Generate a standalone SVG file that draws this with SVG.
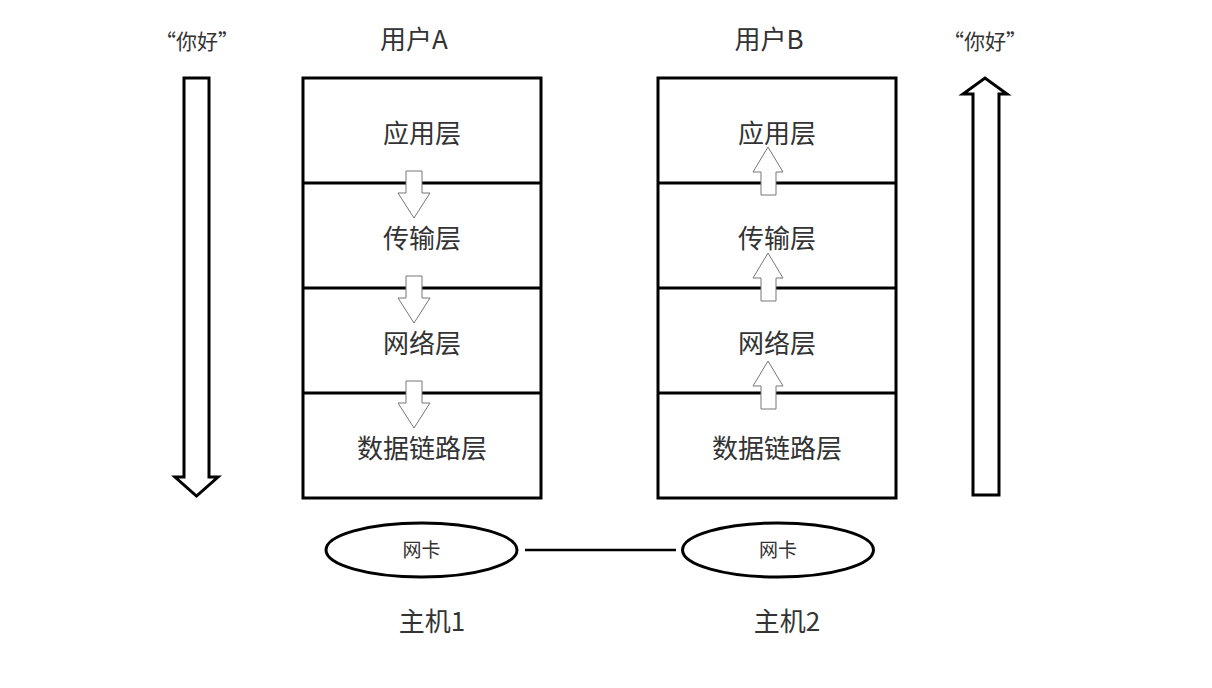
<svg xmlns="http://www.w3.org/2000/svg" width="1212" height="688" viewBox="0 0 1212 688">
<style>
text{font-family:"Noto Sans CJK SC","Noto Sans",sans-serif;fill:#333;text-anchor:middle}
.t{font-size:26px}
.s{font-size:19px}
.h{font-size:21px}
.box{fill:#fff;stroke:#000;stroke-width:3}
.div{stroke:#000;stroke-width:3}
.big{fill:#fff;stroke:#000;stroke-width:3;stroke-linejoin:miter}
.sm{fill:#fff;stroke:#777;stroke-width:1}
.nic{fill:#fff;stroke:#000;stroke-width:3}
</style>
<rect width="1212" height="688" fill="#fff"/>
<g id="hello-left"><text class="h" x="197" y="49">“你好”</text></g>
<g id="hello-right"><text class="h" x="985" y="49">“你好”</text></g>
<g id="userA-label"><text class="t" x="414" y="49">用户A</text></g>
<g id="userB-label"><text class="t" x="769" y="49">用户B</text></g>
<g id="stackA">
<rect class="box" x="303" y="78" width="238" height="420"/>
<line class="div" x1="303" y1="183" x2="541" y2="183"/>
<line class="div" x1="303" y1="288" x2="541" y2="288"/>
<line class="div" x1="303" y1="393" x2="541" y2="393"/>
<text class="t" x="422" y="143">应用层</text>
<text class="t" x="422" y="248">传输层</text>
<text class="t" x="422" y="353">网络层</text>
<text class="t" x="422" y="458">数据链路层</text>
</g>
<g id="stackB">
<rect class="box" x="658" y="78" width="238" height="420"/>
<line class="div" x1="658" y1="183" x2="896" y2="183"/>
<line class="div" x1="658" y1="288" x2="896" y2="288"/>
<line class="div" x1="658" y1="393" x2="896" y2="393"/>
<text class="t" x="777" y="143">应用层</text>
<text class="t" x="777" y="248">传输层</text>
<text class="t" x="777" y="353">网络层</text>
<text class="t" x="777" y="458">数据链路层</text>
</g>
<g id="connectors">
<path class="big" d="M184,78 H209 V477 H218 L196.5,496 L175,477 H184 Z"/>
<path class="big" d="M973,495 H999 V94 H1007 L985,78 L963,94 H973 Z"/>
<path class="sm" d="M406,171 H422 V193 H430 L414,218 L398,193 H406 Z"/>
<path class="sm" d="M406,276 H422 V298 H430 L414,323 L398,298 H406 Z"/>
<path class="sm" d="M406,381 H422 V403 H430 L414,428 L398,403 H406 Z"/>
<path class="sm" d="M761,195 H776 V172 H783 L768,147 L753,172 H761 Z"/>
<path class="sm" d="M761,301 H776 V278 H783 L768,253 L753,278 H761 Z"/>
<path class="sm" d="M761,409 H776 V386 H783 L768,361 L753,386 H761 Z"/>
<line x1="525" y1="550" x2="676" y2="550" stroke="#000" stroke-width="2.5"/>
</g>
<g id="nic1"><ellipse class="nic" cx="421.5" cy="550" rx="95.5" ry="27"/><text class="s" x="421.5" y="557">网卡</text></g>
<g id="nic2"><ellipse class="nic" cx="778" cy="550" rx="95.5" ry="27"/><text class="s" x="778" y="557">网卡</text></g>
<g id="host1"><text class="t" x="432" y="631">主机1</text></g>
<g id="host2"><text class="t" x="787" y="631">主机2</text></g>
</svg>
